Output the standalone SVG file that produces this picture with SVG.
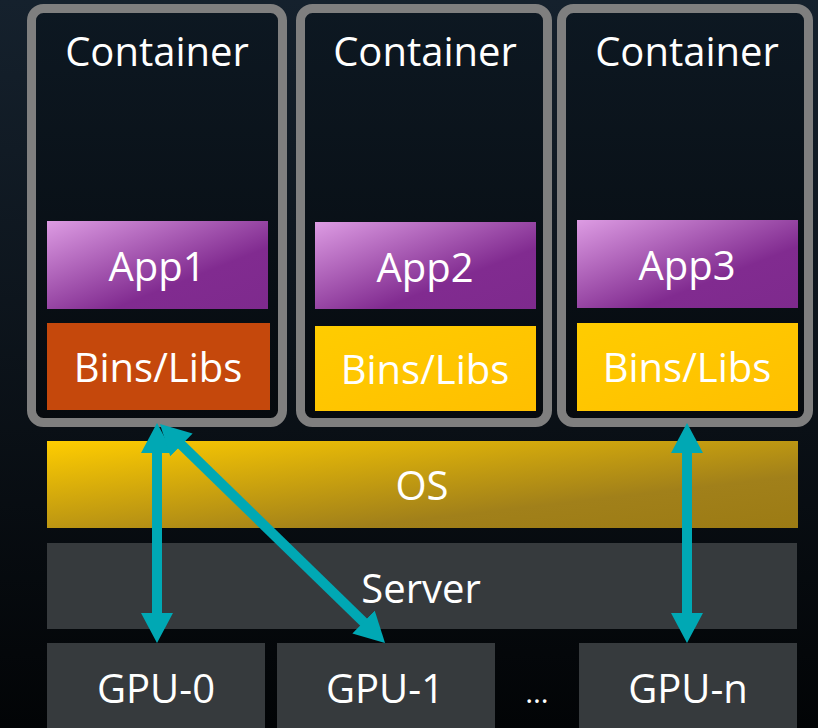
<svg xmlns="http://www.w3.org/2000/svg" width="818" height="728" viewBox="0 0 818 728">
<defs>
<linearGradient id="bg" x1="0" y1="0" x2="0" y2="1">
<stop offset="0" stop-color="#15212d"/>
<stop offset="1" stop-color="#020406"/>
</linearGradient>
<linearGradient id="cont" x1="0" y1="0" x2="0" y2="1">
<stop offset="0" stop-color="#0d1822"/>
<stop offset="1" stop-color="#060a0e"/>
</linearGradient>
<linearGradient id="app" x1="0" y1="0" x2="1" y2="1">
<stop offset="0" stop-color="#dd9ce3"/>
<stop offset="0.65" stop-color="#812b90"/>
<stop offset="1" stop-color="#7e2a8d"/>
</linearGradient>
<linearGradient id="bins" x1="0" y1="0" x2="1" y2="1">
<stop offset="0" stop-color="#ffcc00"/>
<stop offset="1" stop-color="#ffbf00"/>
</linearGradient>
<linearGradient id="os" x1="0" y1="0" x2="1" y2="1" gradientUnits="objectBoundingBox">
<stop offset="0" stop-color="#ffcd00"/>
<stop offset="0.7" stop-color="#a1801a"/>
<stop offset="1" stop-color="#9c7b14"/>
</linearGradient>
<marker id="ah" markerUnits="userSpaceOnUse" markerWidth="30" markerHeight="32" viewBox="0 0 30 32" refX="10" refY="16" orient="auto-start-reverse">
<path d="M0,0 L30,16 L0,32 z" fill="#00a8b4"/>
</marker>
<style>
.box{stroke:#7f7f7f;stroke-width:9;fill:url(#cont)}
.t{font-family:"Open Sans","Noto Sans",sans-serif;font-size:40px;fill:#ffffff;text-anchor:middle}
.dark{fill:#363a3d}
.conn{stroke:#00a8b4;stroke-width:10;fill:none;marker-start:url(#ah);marker-end:url(#ah)}
</style>
</defs>
<rect x="0" y="0" width="818" height="728" fill="url(#bg)"/>

<g id="container1">
<rect class="box" x="31.5" y="8.5" width="251" height="414" rx="12"/>
<text class="t" x="157" y="66">Container</text>
</g>
<g id="container2">
<rect class="box" x="300.5" y="8.5" width="247" height="414" rx="12"/>
<text class="t" x="425" y="66">Container</text>
</g>
<g id="container3">
<rect class="box" x="561.5" y="8.5" width="247" height="414" rx="12"/>
<text class="t" x="687" y="66">Container</text>
</g>

<g id="app1">
<rect x="47" y="221" width="221" height="88" fill="url(#app)"/>
<text class="t" x="157" y="281">App1</text>
</g>
<g id="bins1">
<rect x="47" y="323" width="223" height="87" fill="#c5480c"/>
<text class="t" x="158" y="382">Bins/Libs</text>
</g>
<g id="app2">
<rect x="315" y="222" width="221" height="87" fill="url(#app)"/>
<text class="t" x="425" y="282">App2</text>
</g>
<g id="bins2">
<rect x="315" y="326" width="221" height="85" fill="url(#bins)"/>
<text class="t" x="425" y="384">Bins/Libs</text>
</g>
<g id="app3">
<rect x="577" y="220" width="221" height="88" fill="url(#app)"/>
<text class="t" x="687" y="280">App3</text>
</g>
<g id="bins3">
<rect x="577" y="323" width="221" height="88" fill="url(#bins)"/>
<text class="t" x="687" y="382">Bins/Libs</text>
</g>

<g id="os">
<rect x="47" y="441" width="751" height="87" fill="url(#os)"/>
<text class="t" x="422" y="500">OS</text>
</g>
<g id="server">
<rect class="dark" x="47" y="543" width="750" height="86"/>
<text class="t" x="421" y="603">Server</text>
</g>
<g id="gpu0">
<rect class="dark" x="47" y="643" width="218" height="85"/>
<text class="t" x="156" y="703">GPU-0</text>
</g>
<g id="gpu1">
<rect class="dark" x="277" y="643" width="218" height="85"/>
<text class="t" x="385" y="703">GPU-1</text>
</g>
<g id="ellipsis">
<text class="t" x="537" y="703" style="font-size:30px">…</text>
</g>
<g id="gpun">
<rect class="dark" x="579" y="643" width="218" height="85"/>
<text class="t" x="688" y="703">GPU-n</text>
</g>

<g id="connectors">
<line class="conn" x1="157" y1="443" x2="157" y2="623"/>
<line class="conn" x1="174.3" y1="437.9" x2="370.7" y2="629"/>
<line class="conn" x1="687" y1="443" x2="687" y2="623"/>
</g>
</svg>
